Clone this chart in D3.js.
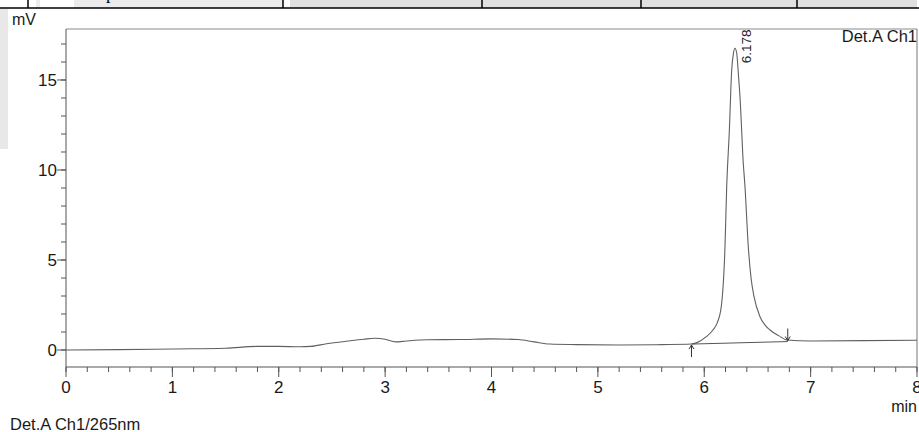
<!DOCTYPE html>
<html><head><meta charset="utf-8">
<script src="https://cdn.jsdelivr.net/npm/d3@7"></script>
<style>
html,body{margin:0;padding:0;background:#fff;}
svg{display:block;font-family:"Liberation Sans",Arial,sans-serif;}
</style></head>
<body>
<svg id="c" width="919" height="432"></svg>
<script>
// ---- data ----
const time = [0, 0.5, 1.0, 1.5, 1.8, 2.0, 2.2, 2.3, 2.45, 2.65, 2.8, 2.9, 3.0, 3.1, 3.2, 3.4, 3.7, 4.0, 4.25, 4.4, 4.55, 4.8, 5.2, 5.6, 5.88, 5.93, 6.02, 6.08, 6.12, 6.16, 6.195, 6.211, 6.236, 6.258, 6.275, 6.289, 6.305, 6.32, 6.336, 6.367, 6.383, 6.414, 6.44, 6.468, 6.524, 6.57, 6.618, 6.7, 6.775, 7.0, 7.5, 8.0];
const signal = [0, 0.02, 0.06, 0.1, 0.2, 0.2, 0.18, 0.2, 0.35, 0.5, 0.6, 0.65, 0.6, 0.45, 0.5, 0.57, 0.58, 0.62, 0.58, 0.45, 0.33, 0.3, 0.28, 0.3, 0.33, 0.41, 0.74, 1.1, 1.48, 2.41, 5.74, 9.07, 12.2, 15.56, 16.5, 16.76, 16.5, 15.4, 14.07, 10.37, 9.07, 5.74, 4.0, 2.96, 1.85, 1.4, 1.11, 0.8, 0.56, 0.5, 0.52, 0.54];
const peakLabel = ["6.178"];
const peakTime = [6.289];
const peakHeight = [16.76];
const integStart = [5.88, 0.33];
const integEnd = [6.785, 0.47];
const xTicks = [0, 1, 2, 3, 4, 5, 6, 7, 8];
const yTicks = [0, 5, 10, 15];
const yLabel = "mV";
const xLabel = "min";
const channelLabel = "Det.A Ch1";
const footerLabel = "Det.A Ch1/265nm";

// ---- layout ----
const svg = d3.select("#c");
const L = 66, R = 917, T = 29, B = 367;
const x = d3.scaleLinear().domain([0, 8]).range([L, R]);
const y = d3.scaleLinear().domain([-0.944, 17.833]).range([B, T]);

// background fragments (page table above chart)
svg.append("rect").attr("x", 0).attr("y", 9).attr("width", 8).attr("height", 140).attr("fill", "#e8e8e8");
svg.append("rect").attr("x", 36).attr("y", 0).attr("width", 247).attr("height", 8).attr("fill", "#ececec");
svg.append("rect").attr("x", 290).attr("y", 0).attr("width", 627).attr("height", 8).attr("fill", "#e0e0e0");
svg.append("rect").attr("x", 40).attr("y", 0).attr("width", 34).attr("height", 8).attr("fill", "#fff");
svg.append("line").attr("x1", 0).attr("x2", 919).attr("y1", 8).attr("y2", 8).attr("stroke", "#000").attr("stroke-width", 1.5);
[28, 283, 482, 641, 797].forEach(px => {
  svg.append("line").attr("x1", px).attr("x2", px).attr("y1", 0).attr("y2", 8).attr("stroke", "#000").attr("stroke-width", 1.5);
});
svg.append("text").attr("x", 106).attr("y", -1).attr("font-family", "Liberation Serif, serif").attr("font-size", 18).text("p");

// frame
svg.append("line").attr("x1", L).attr("x2", R).attr("y1", T).attr("y2", T).attr("stroke", "#8a8a8a");
svg.append("line").attr("x1", R).attr("x2", R).attr("y1", T).attr("y2", B).attr("stroke", "#777");

// axes
const xMinor = d3.range(0, 8.0001, 0.2);
const gx = svg.append("g").attr("transform", `translate(0,${B})`);
gx.append("line").attr("x1", L).attr("x2", R).attr("stroke", "#555");
gx.selectAll(".mt").data(xMinor).join("line").attr("x1", d => x(d)).attr("x2", d => x(d)).attr("y1", 0).attr("y2", 5).attr("stroke", "#555");
gx.selectAll(".Mt").data(xTicks).join("line").attr("x1", d => x(d)).attr("x2", d => x(d)).attr("y1", 0).attr("y2", 10).attr("stroke", "#555");
gx.selectAll("text").data(xTicks).join("text").attr("x", d => x(d)).attr("y", 25.5).attr("text-anchor", "middle").attr("font-size", 17).attr("fill", "#1a1a1a").text(d => d);

const yMinor = d3.range(0, 18, 1);
const gy = svg.append("g").attr("transform", `translate(${L},0)`);
gy.append("line").attr("y1", T).attr("y2", B).attr("stroke", "#555");
gy.selectAll(".mt").data(yMinor).join("line").attr("y1", d => y(d)).attr("y2", d => y(d)).attr("x1", 0).attr("x2", -5).attr("stroke", "#555");
gy.selectAll(".Mt").data(yTicks).join("line").attr("y1", d => y(d)).attr("y2", d => y(d)).attr("x1", 0).attr("x2", -9).attr("stroke", "#555");
gy.selectAll("text").data(yTicks).join("text").attr("x", -9).attr("y", d => y(d) + 6).attr("text-anchor", "end").attr("font-size", 17).attr("fill", "#1a1a1a").text(d => d);

// labels
svg.append("text").attr("x", 12).attr("y", 25).attr("font-size", 16).attr("fill", "#1a1a1a").text(yLabel);
svg.append("text").attr("x", 917).attr("y", 412).attr("text-anchor", "end").attr("font-size", 16).attr("fill", "#1a1a1a").text(xLabel);
svg.append("text").attr("x", 917).attr("y", 42).attr("text-anchor", "end").attr("font-size", 16.5).attr("fill", "#1a1a1a").text(channelLabel);
svg.append("text").attr("x", 10).attr("y", 430).attr("font-size", 16.5).attr("fill", "#1a1a1a").text(footerLabel);

// trace
const line = d3.line().x((d, i) => x(time[i])).y((d, i) => y(signal[i])).curve(d3.curveMonotoneX);
svg.append("path").datum(signal).attr("d", line).attr("fill", "none").attr("stroke", "#606060").attr("stroke-width", 1.1);

// integration baseline
svg.append("line").attr("x1", x(integStart[0])).attr("y1", y(integStart[1])).attr("x2", x(integEnd[0])).attr("y2", y(integEnd[1])).attr("stroke", "#555").attr("stroke-width", 1);

// arrows
function arrow(px, py, dir) {
  const len = 12;
  const g = svg.append("g").attr("stroke", "#333").attr("fill", "none").attr("stroke-width", 1);
  g.append("line").attr("x1", px).attr("x2", px).attr("y1", py).attr("y2", py - dir * len);
  g.append("path").attr("d", `M${px - 2.5},${py - dir * 4}L${px},${py}L${px + 2.5},${py - dir * 4}`);
}
arrow(x(integStart[0]), y(integStart[1]) + 1, -1);
arrow(x(integEnd[0]), y(integEnd[1]) - 1, 1);

// peak label
svg.append("text").attr("transform", `translate(${x(peakTime[0]) + 16.5},${y(peakHeight[0]) + 15}) rotate(-90)`)
  .attr("font-size", 13.5).attr("fill", "#1a1a1a").text(peakLabel[0]);
</script>
</body></html>
